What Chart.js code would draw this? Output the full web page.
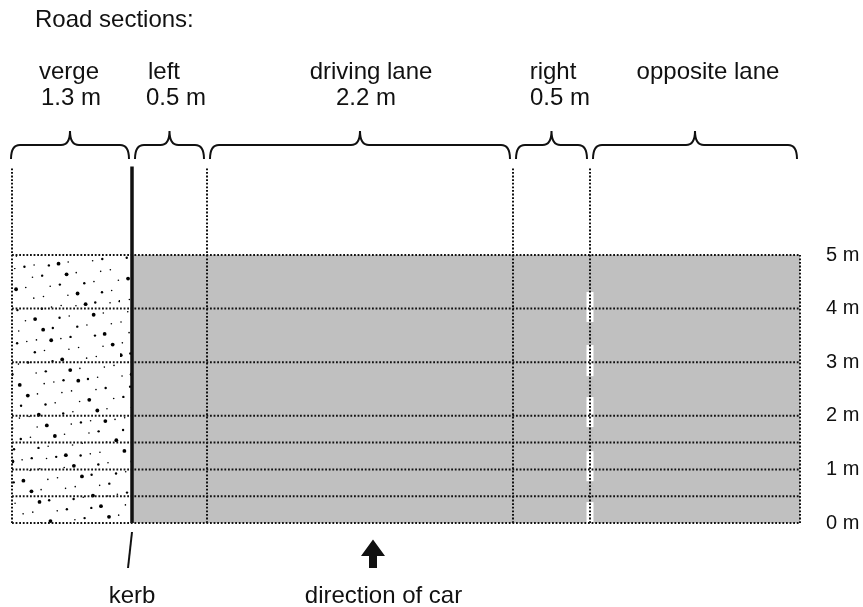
<!DOCTYPE html>
<html><head><meta charset="utf-8">
<script src="https://cdn.jsdelivr.net/npm/chart.js@4.4.1/dist/chart.umd.min.js"></script>
<style>html,body{margin:0;padding:0;background:#fff;}#wrap{width:863px;height:607px;position:relative;}</style>
</head><body><div id="wrap"><canvas id="c"></canvas></div>
<script>
// ---------- data ----------
const titleText = 'Road sections:';
const sectionNames = ['verge', 'left', 'driving lane', 'right', 'opposite lane'];
const sectionWidthLabels = ['1.3 m', '0.5 m', '2.2 m', '0.5 m', ''];
const sectionEdges = [12, 132, 207, 513, 590, 800];          // diagram x units (not to scale)
const rowBoundaries = [0, 0.5, 1, 1.5, 2, 3, 4, 5];         // metres along the road
const yTickValues = [0, 1, 2, 3, 4, 5];
const roadLength = 5;
const guideTop = 6.65;
const laneMarkings = [[0, 0.39], [0.78, 1.34], [1.79, 2.35], [2.74, 3.32], [3.75, 4.31]];
const kerbLabel = 'kerb';
const directionLabel = 'direction of car';
const carDirectionX = 373;

// ---------- layout / style ----------
const layoutX = { title: 35, names: [69, 164, 371, 553, 708], values: [71, 176, 366, 560, 0], direction: 383.5 };
const targetPx = { top: 255, bottom: 523 };   // where 5 m and 0 m sit on the page
const F = "'Liberation Sans', Arial, Helvetica, sans-serif";
const INK = '#111';
const DOT = [1.8, 1.8];
const GREY = '#c0c0c0';

function makeStipple() {
  const c = document.createElement('canvas');
  c.width = 120; c.height = 268;
  const g = c.getContext('2d');
  g.fillStyle = '#fff'; g.fillRect(0, 0, 120, 268);
  g.fillStyle = '#000';
  for (let i = 1; i <= 190; i++) {
    const px = ((i * 0.7548776662) % 1) * 120;
    const py = ((i * 0.5698402910) % 1) * 268;
    const r = (i % 5 === 0) ? 1.9 : (i % 3 === 0 ? 1.2 : 0.8);
    g.beginPath(); g.arc(px, py, r, 0, Math.PI * 2); g.fill();
  }
  return g.createPattern(c, 'repeat');
}

const base = { showLine: true, pointRadius: 0, clip: false, fill: false, tension: 0 };
const datasets = [];
datasets.push(Object.assign({}, base, {
  data: [{ x: sectionEdges[1], y: 0 }, { x: sectionEdges[1], y: guideTop }],
  borderColor: INK, borderWidth: 3.5, borderCapStyle: 'butt', order: 0 }));
rowBoundaries.forEach(v => datasets.push(Object.assign({}, base, {
  data: [{ x: sectionEdges[0], y: v }, { x: sectionEdges[5], y: v }],
  borderColor: INK, borderWidth: 2, borderDash: DOT, order: 1 })));
[0, 2, 3, 4].forEach(i => datasets.push(Object.assign({}, base, {
  data: [{ x: sectionEdges[i], y: 0 }, { x: sectionEdges[i], y: guideTop }],
  borderColor: INK, borderWidth: 2, borderDash: DOT, order: 1 })));
datasets.push(Object.assign({}, base, {
  data: [{ x: sectionEdges[5], y: 0 }, { x: sectionEdges[5], y: roadLength }],
  borderColor: INK, borderWidth: 2, borderDash: DOT, order: 1 }));
laneMarkings.forEach(([a, b]) => datasets.push(Object.assign({}, base, {
  data: [{ x: sectionEdges[4], y: a }, { x: sectionEdges[4], y: b }],
  borderColor: '#fff', borderWidth: 7, borderCapStyle: 'butt', order: 2 })));
datasets.push(Object.assign({}, base, {
  data: [{ x: sectionEdges[1], y: roadLength }, { x: sectionEdges[5], y: roadLength }],
  fill: { value: 0 }, backgroundColor: GREY, borderColor: 'rgba(0,0,0,0)', borderWidth: 1, order: 5 }));
datasets.push(Object.assign({}, base, {
  data: [{ x: sectionEdges[0], y: roadLength }, { x: sectionEdges[1], y: roadLength }],
  fill: { value: 0 }, backgroundColor: makeStipple(), borderColor: 'rgba(0,0,0,0)', borderWidth: 1, order: 5 }));

const annot = {
  id: 'annot',
  afterDraw(chart) {
    const { ctx, scales: { x, y } } = chart;
    const top5 = y.getPixelForValue(roadLength);
    const base0 = y.getPixelForValue(0);
    ctx.save();
    ctx.fillStyle = INK; ctx.strokeStyle = INK;
    ctx.font = '24px ' + F; ctx.textBaseline = 'alphabetic';
    ctx.textAlign = 'left';
    ctx.fillText(titleText, x.getPixelForValue(layoutX.title), top5 - 228);
    ctx.textAlign = 'center';
    sectionNames.forEach((n, i) => {
      ctx.fillText(n, x.getPixelForValue(layoutX.names[i]), top5 - 176);
      if (sectionWidthLabels[i]) ctx.fillText(sectionWidthLabels[i], x.getPixelForValue(layoutX.values[i]), top5 - 150);
    });
    ctx.lineWidth = 2;
    for (let i = 0; i < sectionEdges.length - 1; i++) {
      const x0 = x.getPixelForValue(sectionEdges[i]) + (i === 0 ? -1 : 3);
      const x1 = x.getPixelForValue(sectionEdges[i + 1]) - 3;
      const m = (x0 + x1) / 2, r = 9;
      const ye = top5 - 96, yh = top5 - 110, ya = top5 - 124;
      ctx.beginPath();
      ctx.moveTo(x0, ye);
      ctx.quadraticCurveTo(x0, yh, x0 + r, yh);
      ctx.lineTo(m - r, yh);
      ctx.quadraticCurveTo(m, yh, m, ya);
      ctx.quadraticCurveTo(m, yh, m + r, yh);
      ctx.lineTo(x1 - r, yh);
      ctx.quadraticCurveTo(x1, yh, x1, ye);
      ctx.stroke();
    }
    const kx = x.getPixelForValue(sectionEdges[1]);
    ctx.beginPath(); ctx.moveTo(kx, base0 + 9); ctx.lineTo(kx - 4, base0 + 45); ctx.stroke();
    ctx.fillText(kerbLabel, kx, base0 + 80);
    const ax = x.getPixelForValue(carDirectionX);
    ctx.beginPath();
    ctx.moveTo(ax, base0 + 16.5);
    ctx.lineTo(ax + 12, base0 + 33);
    ctx.lineTo(ax + 4, base0 + 33);
    ctx.lineTo(ax + 4, base0 + 45);
    ctx.lineTo(ax - 4, base0 + 45);
    ctx.lineTo(ax - 4, base0 + 33);
    ctx.lineTo(ax - 12, base0 + 33);
    ctx.closePath(); ctx.fill();
    ctx.fillText(directionLabel, x.getPixelForValue(layoutX.direction), base0 + 80);
    ctx.restore();
  }
};

const chart = new Chart(document.getElementById('c'), {
  type: 'line',
  data: { datasets },
  options: {
    responsive: true, maintainAspectRatio: false, animation: false, events: [],
    layout: { autoPadding: false, padding: { top: 0, bottom: 0, left: 0, right: 0 } },
    plugins: { legend: { display: false }, tooltip: { enabled: false }, title: { display: false } },
    scales: {
      x: { type: 'linear', min: 0, max: 800, display: false },
      y: {
        type: 'linear', position: 'right', min: -1.5, max: 9.5,
        afterBuildTicks: s => { s.ticks = yTickValues.map(v => ({ value: v })); },
        afterFit: s => { s.width = 63; },
        grid: { display: false, drawTicks: false },
        border: { display: false },
        ticks: { padding: 26, color: INK, font: { family: F, size: 20 }, callback: v => v + ' m' }
      }
    }
  },
  plugins: [annot]
});

// fit the scales so that the diagram lands where the reference puts it
for (let k = 0; k < 3; k++) {
  const a = chart.chartArea;
  const u = (targetPx.bottom - targetPx.top) / roadLength;
  chart.options.scales.y.max = roadLength + (targetPx.top - a.top) / u;
  chart.options.scales.y.min = -(a.bottom - targetPx.bottom) / u;
  chart.options.scales.x.min = a.left;
  chart.options.scales.x.max = a.right;
  chart.update('none');
}
</script></body></html>
